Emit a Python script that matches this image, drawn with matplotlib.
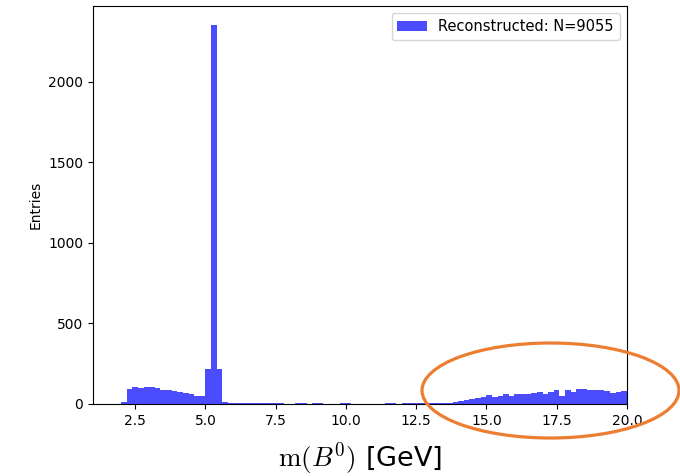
'''Reconstructed B0 mass histogram with the high-mass tail circled.'''
import numpy as np
import matplotlib.pyplot as plt
from matplotlib.patches import Ellipse

plt.rcParams['mathtext.fontset'] = 'cm'

# bin edges in GeV, 0.2 GeV wide
bin_lo = 2.0
bin_hi = 20.0
bin_width = 0.2

# entries per bin (2.0 .. 19.8 lower edges)
counts = [12, 92, 104, 97, 107, 106, 98, 88, 85, 80,
          74, 69, 60, 48, 52, 215, 2354, 215, 10, 9,
          8, 8, 7, 7, 6, 6, 5, 5, 3, 0,
          0, 4, 4, 0, 4, 4, 0, 0, 0, 4,
          3, 0, 0, 0, 0, 0, 0, 4, 4, 0,
          4, 4, 4, 5, 6, 6, 7, 7, 9, 14,
          21, 24, 34, 38, 46, 58, 42, 52, 60, 48,
          60, 60, 61, 66, 72, 62, 75, 86, 52, 86,
          75, 93, 93, 86, 86, 85, 79, 66, 72, 83]
n_total = 9055
legend_label = f"Reconstructed: N={n_total}"


def main():
    edges = np.arange(bin_lo, bin_hi + bin_width / 2, bin_width)
    centers = (edges[:-1] + edges[1:]) / 2

    fig = plt.figure(figsize=(6.8, 4.76), dpi=100)
    ax = fig.add_axes([0.1368, 0.1513, 0.785, 0.836])
    ax.hist(centers, bins=edges, weights=counts, color='blue', alpha=0.7,
            label=legend_label)
    ax.set_xlim(1.0, 20.0)
    ax.set_xlabel(r"$\mathrm{m}(B^0)$ [GeV]", fontsize=19.5, labelpad=9)
    ax.set_ylabel("Entries")
    ax.legend(loc='upper right', fontsize=10.5)

    # orange circle drawn on top of the tail
    ell = Ellipse((550.5 / 680, 1 - 390.5 / 476), 257 / 680, 95 / 476,
                  transform=fig.transFigure, fill=False,
                  edgecolor='#ED7D31', linewidth=2.3, clip_on=False)
    fig.patches.append(ell)

    fig.savefig("out.png", dpi=100)


if __name__ == "__main__":
    main()
